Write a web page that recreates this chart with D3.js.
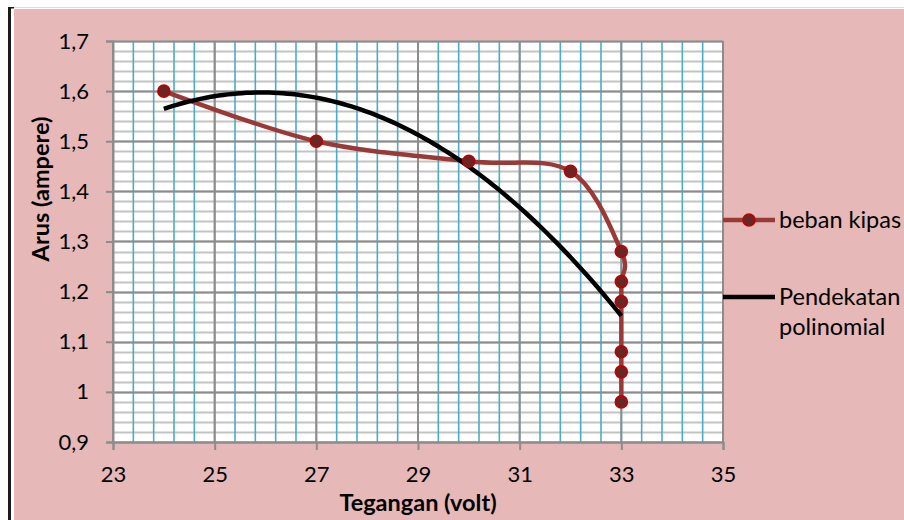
<!DOCTYPE html>
<html>
<head>
<meta charset="utf-8">
<script src="https://cdn.jsdelivr.net/npm/d3@7"></script>
<style>
  html, body { margin: 0; padding: 0; background: #ffffff; }
  svg { display: block; }
  text { font-family: Lato, "Open Sans", "Liberation Sans", sans-serif; fill: #000; }
</style>
</head>
<body>
<svg id="chart" width="904" height="520"></svg>
<script>
// Measured current against voltage with a fan load
const voltage = [24, 27, 30, 32, 33, 33, 33, 33, 33, 33];
const current = [1.6, 1.5, 1.46, 1.44, 1.28, 1.22, 1.18, 1.08, 1.04, 0.98];

// Axis ticks
const xTicks = [23, 25, 27, 29, 31, 33, 35];
const yTicks = [0.9, 1.0, 1.1, 1.2, 1.3, 1.4, 1.5, 1.6, 1.7];

const seriesName = "beban kipas";
const trendName = ["Pendekatan", "polinomial"];
const xTitle = "Tegangan (volt)";
const yTitle = "Arus (ampere)";

const svg = d3.select("#chart");
const W = 904, H = 520;
const plot = { left: 113, right: 723, top: 41, bottom: 442 };

const x = d3.scaleLinear().domain([23, 35]).range([plot.left, plot.right]);
const y = d3.scaleLinear().domain([0.9, 1.7]).range([plot.bottom, plot.top]);

// Frame: white page, dark rule down the left, pink chart area
svg.append("rect").attr("width", W).attr("height", H).attr("fill", "#ffffff");
svg.append("line").attr("x1", 11).attr("x2", W).attr("y1", 7.5).attr("y2", 7.5)
  .attr("stroke", "#dcdcdc").attr("stroke-width", 1);
svg.append("rect").attr("x", 8).attr("y", 7).attr("width", 3).attr("height", H - 7).attr("fill", "#1a1a1a");
svg.append("rect").attr("x", 8).attr("y", 7).attr("width", 6).attr("height", 1.5).attr("fill", "#1a1a1a");
svg.append("rect").attr("x", 14).attr("y", 9).attr("width", W - 14).attr("height", H - 9).attr("fill", "#E6B8B7");

// Plot area
svg.append("rect").attr("x", plot.left).attr("y", plot.top)
  .attr("width", plot.right - plot.left).attr("height", plot.bottom - plot.top)
  .attr("fill", "#ffffff");

const grid = svg.append("g");

// Minor horizontal grid every 0.02
const yMinor = d3.range(0, 41).map(i => 0.9 + i * 0.02);
grid.selectAll(".hminor").data(yMinor).join("line")
  .attr("x1", plot.left).attr("x2", plot.right)
  .attr("y1", d => Math.round(y(d)) + 0.5).attr("y2", d => Math.round(y(d)) + 0.5)
  .attr("stroke", "#c3c3c3").attr("stroke-width", 2);

// Minor vertical grid every 0.4
const xMinor = d3.range(0, 31).map(i => 23 + i * 0.4);
grid.selectAll(".vminor").data(xMinor).join("line")
  .attr("x1", d => x(d)).attr("x2", d => x(d))
  .attr("y1", plot.top).attr("y2", plot.bottom)
  .attr("stroke", "#4bacc6").attr("stroke-width", 1.6);

// Major horizontal grid
grid.selectAll(".hmajor").data(yTicks).join("line")
  .attr("x1", plot.left).attr("x2", plot.right)
  .attr("y1", d => Math.round(y(d)) + 0.5).attr("y2", d => Math.round(y(d)) + 0.5)
  .attr("stroke", "#8c8c8c").attr("stroke-width", 2);

// Major vertical grid
grid.selectAll(".vmajor").data(xTicks).join("line")
  .attr("x1", d => x(d)).attr("x2", d => x(d))
  .attr("y1", plot.top).attr("y2", plot.bottom)
  .attr("stroke", "#8c8c8c").attr("stroke-width", 2);

// Axes
const fmt = d => String(+d.toFixed(2)).replace(".", ",");

const yAxis = svg.append("g")
  .attr("transform", `translate(${plot.left},0)`)
  .call(d3.axisLeft(y).tickValues(yTicks).tickFormat(fmt).tickSize(7).tickPadding(17));
const xAxis = svg.append("g")
  .attr("transform", `translate(0,${plot.bottom})`)
  .call(d3.axisBottom(x).tickValues(xTicks).tickFormat(fmt).tickSize(8).tickPadding(16));

[yAxis, xAxis].forEach(a => {
  a.select(".domain").attr("stroke", "#8c8c8c").attr("stroke-width", 2);
  a.selectAll(".tick line").attr("stroke", "#8c8c8c").attr("stroke-width", 2);
  a.selectAll(".tick text").attr("font-size", 22).attr("fill", "#000")
    .style("font-family", "Lato, 'Open Sans', sans-serif");
});
xAxis.selectAll(".tick text").attr("dy", "0.72em");

// Axis titles
svg.append("text")
  .attr("x", (plot.left + plot.right) / 2).attr("y", 511)
  .attr("text-anchor", "middle").attr("font-size", 23.5).attr("font-weight", 700)
  .text(xTitle);
svg.append("text")
  .attr("transform", "translate(49,189) rotate(-90)")
  .attr("text-anchor", "middle").attr("font-size", 23.5).attr("font-weight", 700)
  .text(yTitle);

// Second-order least-squares trend of current on voltage
function polyFit2(xs, ys) {
  const n = xs.length;
  const S = k => d3.sum(xs, v => Math.pow(v, k));
  const T = k => d3.sum(xs.map((v, i) => Math.pow(v, k) * ys[i]));
  const A = [[n, S(1), S(2)], [S(1), S(2), S(3)], [S(2), S(3), S(4)]];
  const b = [T(0), T(1), T(2)];
  // Gaussian elimination
  for (let i = 0; i < 3; i++) {
    for (let j = i + 1; j < 3; j++) {
      const f = A[j][i] / A[i][i];
      for (let k = i; k < 3; k++) A[j][k] -= f * A[i][k];
      b[j] -= f * b[i];
    }
  }
  const c = [0, 0, 0];
  for (let i = 2; i >= 0; i--) {
    let s = b[i];
    for (let k = i + 1; k < 3; k++) s -= A[i][k] * c[k];
    c[i] = s / A[i][i];
  }
  return c;
}
const x0 = d3.mean(voltage);
const coef = polyFit2(voltage.map(v => v - x0), current);
const trendFn = v => coef[0] + coef[1] * (v - x0) + coef[2] * (v - x0) * (v - x0);
const xMin = d3.min(voltage), xMax = d3.max(voltage);
const trendPts = d3.range(0, 101).map(i => {
  const v = xMin + (xMax - xMin) * i / 100;
  return [v, trendFn(v)];
});

// Data series: smoothed line with markers
const pts = voltage.map((v, i) => [v, current[i]]);
const smooth = d3.line().x(d => x(d[0])).y(d => y(d[1])).curve(d3.curveCardinal.tension(0));

svg.append("path").datum(pts).attr("d", smooth)
  .attr("fill", "none").attr("stroke", "#9a3a37").attr("stroke-width", 4.5)
  .attr("stroke-linejoin", "round");

svg.append("path").datum(trendPts)
  .attr("d", d3.line().x(d => x(d[0])).y(d => y(d[1])))
  .attr("fill", "none").attr("stroke", "#000").attr("stroke-width", 4.5);

svg.selectAll(".marker").data(pts).join("circle")
  .attr("cx", d => x(d[0])).attr("cy", d => y(d[1])).attr("r", 6)
  .attr("fill", "#6a2624").attr("stroke", "#c00000").attr("stroke-width", 1.6);

// Legend
const lg = svg.append("g");
lg.append("line").attr("x1", 723).attr("x2", 775).attr("y1", 220).attr("y2", 220)
  .attr("stroke", "#9a3a37").attr("stroke-width", 4.5);
lg.append("circle").attr("cx", 749).attr("cy", 220).attr("r", 6)
  .attr("fill", "#6a2624").attr("stroke", "#c00000").attr("stroke-width", 1.6);
lg.append("text").attr("x", 779).attr("y", 220).attr("dy", "0.35em")
  .attr("font-size", 23.5).text(seriesName);

lg.append("line").attr("x1", 723).attr("x2", 775).attr("y1", 297).attr("y2", 297)
  .attr("stroke", "#000").attr("stroke-width", 4.5);
lg.selectAll(".trendLabel").data(trendName).join("text")
  .attr("x", 779).attr("y", (d, i) => 297 + i * 30).attr("dy", "0.35em")
  .attr("font-size", 23.5).text(d => d);
</script>
</body>
</html>
